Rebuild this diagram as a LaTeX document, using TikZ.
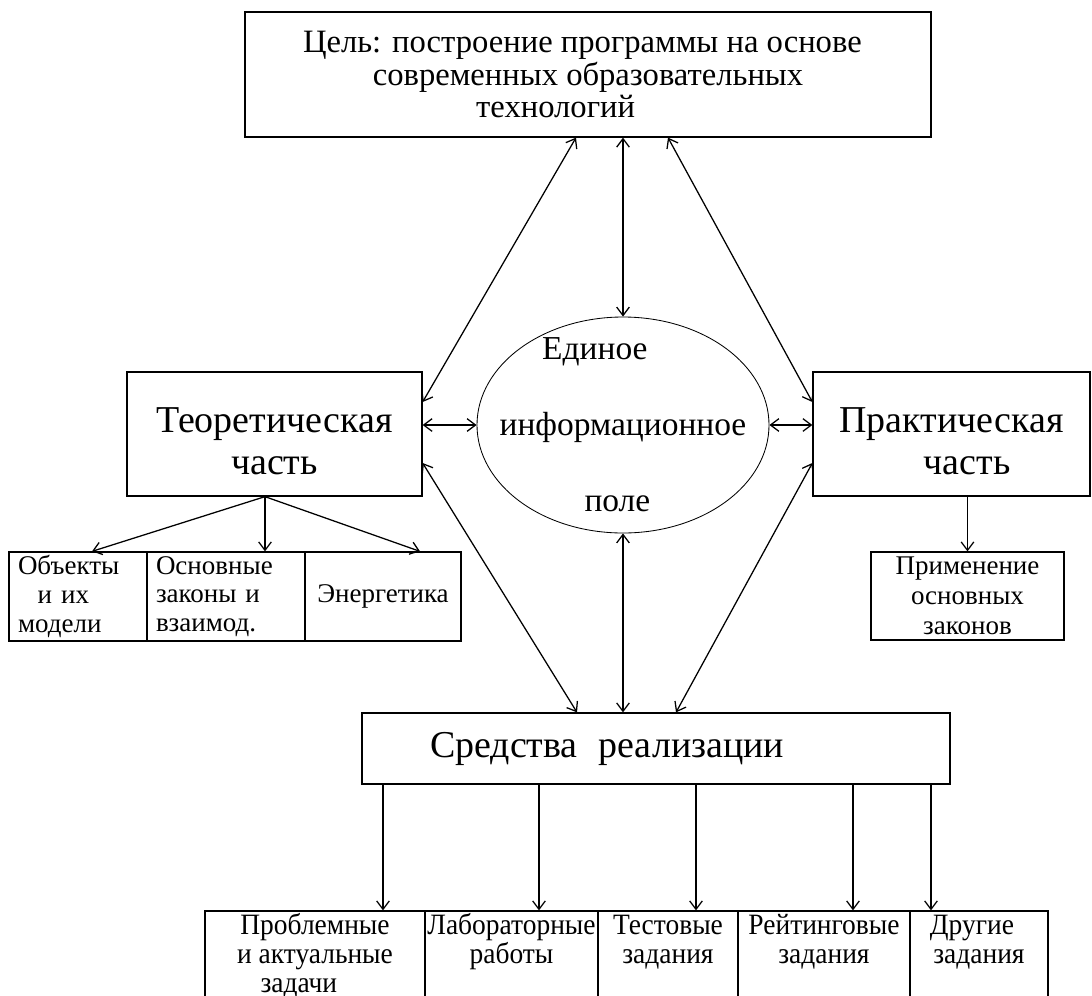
\documentclass[tikz,border=0pt]{standalone}
\usepackage{fontspec}
\setmainfont{Liberation Serif}
\newfontfamily\narrowfont{Liberation Serif}[FakeStretch=0.93]
\usetikzlibrary{shapes,arrows.meta,positioning,calc}

\newcommand{\unitpx}{0.025cm}

\begin{document}
\begin{tikzpicture}[x=0.025cm, y=-0.025cm,
        box/.style={draw, line width=0.9pt, inner sep=0pt, align=center},
        bigfont/.style={font=\fontsize{27}{30}\selectfont},
        smallfont/.style={font=\fontsize{19.2}{20.5}\selectfont},
        tasktext/.style={anchor=base, align=center, inner sep=1pt, font=\narrowfont\fontsize{21}{20.5}\selectfont},
        arr/.style={line width=0.9pt, -{Straight Barb[length=6pt,width=9pt]}},
        darr/.style={line width=0.9pt, {Straight Barb[length=6pt,width=9pt]}-{Straight Barb[length=6pt,width=9pt]}}]
        \useasboundingbox (0,0) rectangle (1092,995);
        \clip (0,0) rectangle (1092,995);

        % Goal box
        \node[box, minimum width=686*\unitpx, minimum height=125*\unitpx, font=\fontsize{23.2}{23}\selectfont] (goal) at (588,74.5) {Цель: построение программы на основе\hspace*{8pt}\\современных образовательных\hspace*{12pt}\\технологий\hspace*{46pt}};

        % Theory and practice
        \node[box, bigfont, minimum width=295*\unitpx, minimum height=124*\unitpx] (teor) at (274.5,434) {\rule{0pt}{28pt}Теоретическая\\часть};
        \node[box, bigfont, minimum width=277*\unitpx, minimum height=124*\unitpx] (prak) at (951.5,434) {\rule{0pt}{28pt}Практическая\\\hspace*{22pt}часть};

        % Information field
        \node[draw, ellipse, line width=0.6pt, inner sep=0pt, minimum width=292*\unitpx, minimum height=216*\unitpx] (field) at (623,425) {};
        \node[align=center, font=\fontsize{23.8}{54}\selectfont] (fieldtext) at (field.center) {Единое\hspace*{40pt}\\информационное\\поле\hspace*{8pt}};

        % Theory parts
        \node[box, smallfont, align=left, text width=120*\unitpx, inner xsep=9*\unitpx, minimum height=89*\unitpx] (objs) at (78,596.5) {Объекты\\\hspace*{14pt}и их\\модели};
        \node[box, smallfont, align=left, text width=140*\unitpx, inner xsep=9*\unitpx, minimum height=89*\unitpx] (laws) at (226,596.5) {Основные\\законы и\\взаимод.};
        \node[box, smallfont, minimum width=156*\unitpx, minimum height=89*\unitpx] (energy) at (383,596.5) {Энергетика};

        % Practice part
        \node[box, font=\fontsize{19.2}{21.5}\selectfont, minimum width=193*\unitpx, minimum height=88*\unitpx] (app) at (967.5,596) {Применение\\основных\\законов};

        % Means
        \node[box, bigfont, align=left, text width=452*\unitpx, inner xsep=68*\unitpx, minimum height=71*\unitpx] (means) at (656,748.5) {Средства\hspace{0.55em}реализации};

        % Bottom boxes
        \node[box, minimum width=220*\unitpx, minimum height=129*\unitpx] (b1) at (315,975.5) {};
        \node[box, minimum width=173*\unitpx, minimum height=129*\unitpx] (b2) at (511.5,975.5) {};
        \node[box, minimum width=140*\unitpx, minimum height=129*\unitpx] (b3) at (668,975.5) {};
        \node[box, minimum width=172*\unitpx, minimum height=129*\unitpx] (b4) at (824,975.5) {};
        \node[box, minimum width=138*\unitpx, minimum height=129*\unitpx] (b5) at (979,975.5) {};

        % Labels of bottom boxes (base = last line)
        \node[tasktext] (t1) at (b1.north |- 0,992) {Проблемные\\и актуальные\\задачи\hspace*{23pt}};
        \node[tasktext] (t2) at (b2.north |- 0,963) {Лабораторные\\работы};
        \node[tasktext] (t3) at (b3.north |- 0,963) {Тестовые\\задания};
        \node[tasktext] (t4) at (b4.north |- 0,963) {Рейтинговые\\задания};
        \node[tasktext] (t5) at (b5.north |- 0,963) {Другие\hspace*{10pt}\\задания};

        % Links to goal
        \draw[darr] (576,0 |- goal.south) -- (teor.east |- 0,402);
        \draw[darr] (field.north |- goal.south) -- (field.north);
        \draw[darr] (668,0 |- goal.south) -- (prak.west |- 0,402);

        % Links to field
        \draw[darr] (teor.east |- field.west) -- (field.west);
        \draw[darr] (field.east) -- (prak.west |- field.east);

        % Links to means
        \draw[darr] (teor.east |- 0,463) -- (577,0 |- means.north);
        \draw[darr] (field.south) -- (field.south |- means.north);
        \draw[darr] (prak.west |- 0,463) -- (676,0 |- means.north);

        % Parts
        \draw[arr] (265,0 |- teor.south) -- (92,0 |- objs.north);
        \draw[arr] (265,0 |- teor.south) -- (265,0 |- laws.north);
        \draw[arr] (265,0 |- teor.south) -- (420,0 |- energy.north);
        \draw[arr] (app.north |- prak.south) -- (app.north);

        % Means to tasks
        \draw[arr] (383,0 |- means.south) -- (383,0 |- b1.north);
        \draw[arr] (539,0 |- means.south) -- (539,0 |- b2.north);
        \draw[arr] (696,0 |- means.south) -- (696,0 |- b3.north);
        \draw[arr] (853,0 |- means.south) -- (853,0 |- b4.north);
        \draw[arr] (931,0 |- means.south) -- (931,0 |- b5.north);
    \end{tikzpicture}
\end{document}
